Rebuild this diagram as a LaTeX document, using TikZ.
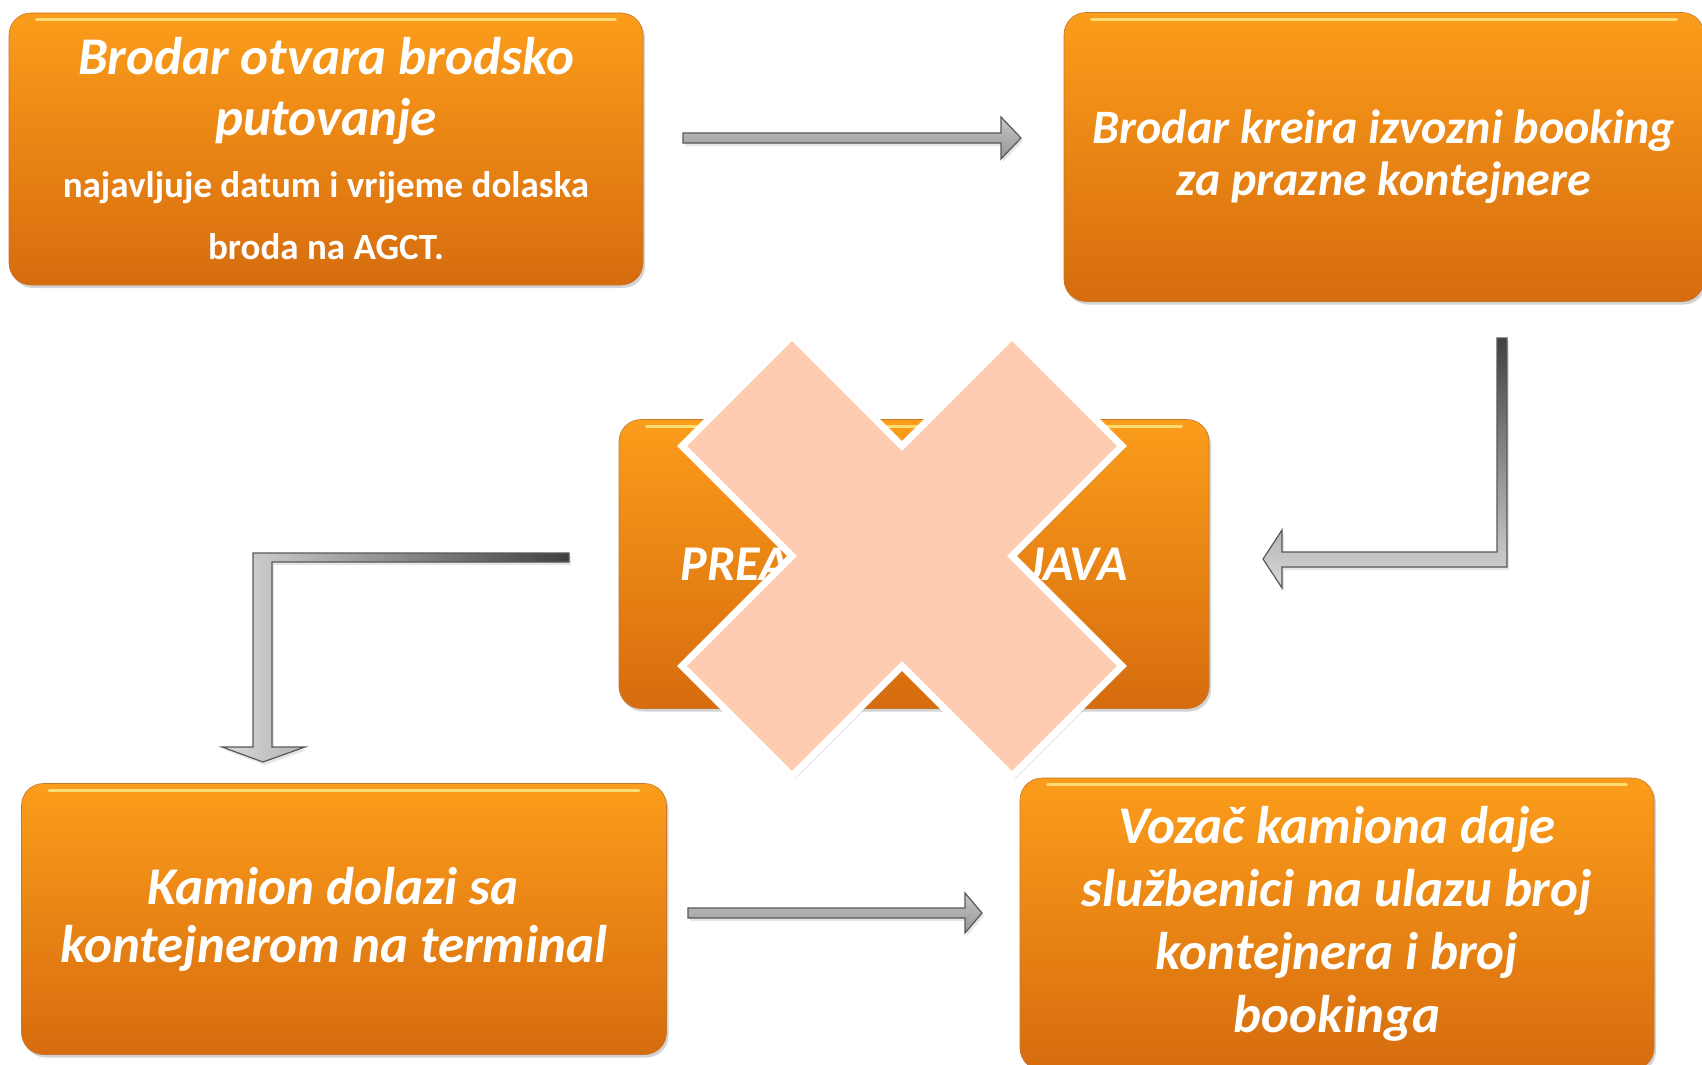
\documentclass[tikz,border=0pt]{standalone}
\usepackage{fontspec}
\setmainfont{Carlito}
\usetikzlibrary{shadows,calc}

\definecolor{boxtop}{RGB}{251,157,27}
\definecolor{boxbot}{RGB}{214,108,14}
\definecolor{boxedge}{RGB}{196,118,46}
\definecolor{crossfill}{RGB}{252,203,176}
\definecolor{arrowedge}{RGB}{88,88,88}

\newcommand\boxtext{\centering\spaceskip=0pt\xspaceskip=0pt}

\tikzset{
  stepbox/.style={rectangle, rounded corners=22pt, top color=boxtop, bottom color=boxbot,
    draw=boxedge, line width=0.6pt, text=white, inner sep=0pt,
    drop shadow={shadow xshift=2pt, shadow yshift=-3pt, opacity=0.35}},
  boxfont/.style 2 args={font={\bfseries\itshape\fontsize{#1}{#2}\selectfont}},
  gloss/.style={draw=yellow!40!white, line width=3pt, line cap=round, opacity=0.7},
  flatarrow/.style={draw=arrowedge, line width=1.2pt, top color=black!22, bottom color=black!42,
    drop shadow={shadow xshift=2pt, shadow yshift=-3pt, opacity=0.2}},
}

\begin{document}
\begin{tikzpicture}[x=1pt, y=-1pt]
        \useasboundingbox (0,0) rectangle (1702,1065);

        % Boxes
        \node (otvara) [stepbox, boxfont={53}{61}, minimum width=634pt, minimum height=272pt, text width=620pt] at (326,149)
          {\boxtext Brodar otvara brodsko\\ putovanje\par
           {\upshape\fontsize{37}{62}\selectfont najavljuje datum i vrijeme dolaska\\ broda na AGCT.\par}};
        \node (kreira) [stepbox, boxfont={48}{52}, minimum width=640pt, minimum height=289pt, text width=626pt] at (1384,157)
          {\boxtext Brodar kreira izvozni booking\\ za prazne kontejnere\par};
        \node (najava) [stepbox, boxfont={50}{60}, minimum width=590pt, minimum height=289pt] at (914,564)
          {PREA\hspace{238pt}JAVA\kern20pt};
        \node (kamion) [stepbox, boxfont={53}{58}, minimum width=645pt, minimum height=271pt, text width=635pt] at (344,919)
          {\boxtext Kamion dolazi sa\kern22pt\\ kontejnerom na terminal\kern20pt\par};
        \node (vozac) [stepbox, boxfont={53}{63}, minimum width=634pt, minimum height=292pt, text width=624pt] at (1337,924)
          {\boxtext Vozač kamiona daje\\ službenici na ulazu broj\\ kontejnera i broj\\ bookinga\par};

        % Gloss
        \foreach \b in {otvara, kreira, najava, kamion, vozac}
          \draw [gloss] ($(\b.north west)+(28,7)$) -- ($(\b.north east)+(-28,7)$);

        % Arrows
        \coordinate (a1s) at (683,138);
        \coordinate (a1e) at (1021,138);
        \coordinate (a2s) at (688,913);
        \coordinate (a2e) at (982,913);
        \coordinate (r1s) at (1502,338);
        \coordinate (r1t) at (1263,559);
        \coordinate (l1s) at (569,557);
        \coordinate (l1t) at (263,762);

        \draw [flatarrow] (a1s) ++(0,-5) -- ++(318,0) -- ++(0,-16) -- (a1e) -- ++(-20,21) -- ++(0,-16) -- ++(-318,0) -- cycle;
        \draw [flatarrow] (a2s) ++(0,-5) -- ++(277,0) -- ++(0,-15) -- (a2e) -- ++(-17,20) -- ++(0,-15) -- ++(-277,0) -- cycle;
        \draw [flatarrow, top color=black!75, bottom color=black!15]
          (r1s) ++(-5,0) -- ++(10,0) -- ++(0,229) -- ++(-225,0) -- ++(0,21) -- (r1t) -- ++(19,-29) -- ++(0,22) -- ++(215,0) -- cycle;
        \draw [flatarrow, left color=black!15, middle color=black!28, right color=black!75]
          (l1s) ++(0,-4) -- ++(-316,0) -- ++(0,194) -- ++(-31,0) -- (l1t) -- ++(42,-15) -- ++(-33,0) -- ++(0,-185) -- ++(297,0) -- cycle;

        % Cross
        \coordinate (cross) at (902,556);
        \draw [fill=crossfill, draw=white, line width=7pt, line join=miter,
               drop shadow={shadow xshift=3pt, shadow yshift=-3pt, opacity=0.25}]
          (cross) ++(0,-110) -- ++(-110,-110) -- ++(-110,110) -- ++(110,110) -- ++(-110,110) -- ++(110,110)
          -- ++(110,-110) -- ++(110,110) -- ++(110,-110) -- ++(-110,-110) -- ++(110,-110) -- ++(-110,-110) -- cycle;
    \end{tikzpicture}
\end{document}
